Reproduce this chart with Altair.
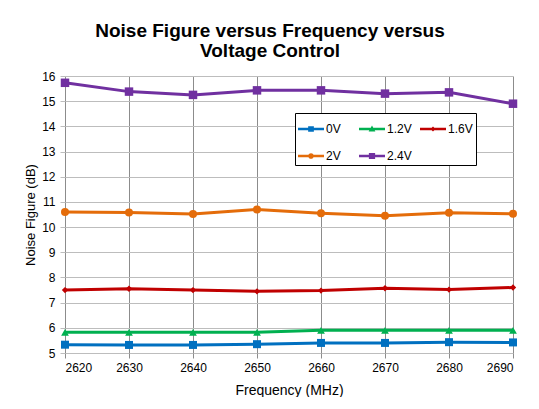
import altair as alt
import pandas as pd

freq = [2620, 2630, 2640, 2650, 2660, 2670, 2680, 2690]
series_names = ["0V", "1.2V", "1.6V", "2V", "2.4V"]
nf_0v = [5.33, 5.32, 5.32, 5.35, 5.40, 5.40, 5.43, 5.42]
nf_12v = [5.82, 5.82, 5.82, 5.82, 5.90, 5.90, 5.90, 5.90]
nf_16v = [7.50, 7.55, 7.50, 7.45, 7.48, 7.57, 7.52, 7.60]
nf_2v = [10.60, 10.58, 10.52, 10.70, 10.55, 10.45, 10.57, 10.53]
nf_24v = [15.73, 15.38, 15.25, 15.43, 15.43, 15.30, 15.35, 14.90]

colors = ["#0070C0", "#00B050", "#C00000", "#E46C0A", "#7030A0"]
shapes = ["square", "triangle-up", "diamond", "circle", "square"]
sizes = [64, 60, 40, 64, 72]

rows = []
for name, vals, c, s, z in zip(series_names, [nf_0v, nf_12v, nf_16v, nf_2v, nf_24v], colors, shapes, sizes):
    for f, v in zip(freq, vals):
        rows.append({"freq": f, "nf": v, "series": name, "clr": c, "shp": s, "sz": z})
df = pd.DataFrame(rows)

bar = "M-1,-0.1L1,-0.1L1,0.1L-1,0.1Z"
legend_paths = {
    "0V": bar + "M-0.22,-0.22L0.22,-0.22L0.22,0.22L-0.22,0.22Z",
    "1.2V": bar + "M0,-0.26L0.26,0.2L-0.26,0.2Z",
    "1.6V": bar + "M0,-0.2L0.2,0L0,0.2L-0.2,0Z",
    "2V": bar + "M0.22,0A0.22,0.22 0 1,1 -0.22,0A0.22,0.22 0 1,1 0.22,0Z",
    "2.4V": bar + "M-0.24,-0.24L0.24,-0.24L0.24,0.24L-0.24,0.24Z",
}
sig = "".join(f"datum.value === '{k}' ? '{v}' : " for k, v in legend_paths.items()) + "'circle'"

x_enc = alt.X("freq:Q", scale=alt.Scale(domain=[2620, 2690], nice=False, zero=False),
              axis=alt.Axis(values=freq, title="Frequency (MHz)", format="d",
                            gridColor="#8c8c8c", tickColor="#8c8c8c"))
y_enc = alt.Y("nf:Q", scale=alt.Scale(domain=[5, 16], nice=False, zero=False),
              axis=alt.Axis(values=list(range(5, 17)), title="Noise Figure (dB)",
                            gridColor="#bdbdbd", tickColor="#bdbdbd"))

base = alt.Chart(df)
lines = base.mark_line(strokeWidth=3).encode(
    x=x_enc, y=y_enc,
    color=alt.Color("clr:N", scale=None),
    detail="series:N",
)
points = base.mark_point(filled=True, opacity=1).encode(
    x=x_enc, y=y_enc,
    color=alt.Color("series:N", scale=alt.Scale(domain=series_names, range=colors),
                    legend=alt.Legend(
                        title=None, orient="none", legendX=230, legendY=37,
                        direction="horizontal",
                        columns=3, gridAlign="all", columnPadding=8, rowPadding=8,
                        symbolSize=676, symbolStrokeWidth=0, labelOffset=2,
                        symbolType=alt.ExprRef(expr=sig), symbolOpacity=1,
                        labelFontSize=12, labelFont="Liberation Sans", labelColor="#000000",
                        padding=3, strokeColor="#000000", fillColor="#ffffff")),
    shape=alt.Shape("shp:N", scale=None),
    size=alt.Size("sz:Q", scale=None),
)

chart = alt.layer(lines, points).properties(
    width=448, height=277,
    title=alt.Title(["Noise Figure versus Frequency versus", "Voltage Control"],
                    font="Liberation Sans", fontSize=19, fontWeight="bold",
                    color="#000000", lineHeight=20, anchor="middle", dx=-19, offset=9),
    padding={"left": 57, "top": 68, "right": 18, "bottom": 44},
    autosize=alt.AutoSizeParams(type="none"),
).configure_view(stroke=None).configure_axis(
    labelFont="Liberation Sans", titleFont="Liberation Sans", labelFontSize=12,
    labelColor="#000000", titleColor="#000000", titleFontWeight="normal",
    domain=False, tickSize=5, labelPadding=4,
).configure_axisX(titleFontSize=14, titlePadding=10).configure_axisY(
    titleFontSize=13, titlePadding=4, labelPadding=5
)

chart.save("out.html", embed_options={"renderer": "svg", "actions": False})
